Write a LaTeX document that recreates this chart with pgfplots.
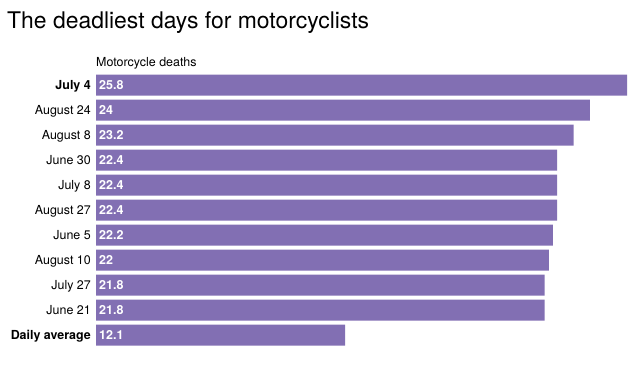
\documentclass[border=0pt]{standalone}
\usepackage{pgfplots}
\pgfplotsset{compat=1.18}
\usepackage{pgfplotstable}
\usepackage{fontspec}
\setmainfont{TeX Gyre Heros}
\definecolor{barpurple}{HTML}{826FB3}

\pgfplotstableread[col sep=comma]{
idx,value
0,25.8
1,24
2,23.2
3,22.4
4,22.4
5,22.4
6,22.2
7,22
8,21.8
9,21.8
10,12.1
}\deaths

\begin{document}
\begin{tikzpicture}[x=1bp,y=1bp]
\path[use as bounding box] (0,0) rectangle (640,374);
\node[anchor=base west, inner sep=0pt, font=\fontsize{23}{27}\selectfont] at (7,346) {The deadliest days for motorcyclists};
\node[anchor=base west, inner sep=0pt, font=\fontsize{12.5}{15}\selectfont] at (96,308) {Motorcycle deaths};
\begin{axis}[
  at={(96bp,26.5bp)}, anchor=south west,
  width=531bp, height=275bp, scale only axis,
  xmin=0, xmax=25.8, ymin=-0.5, ymax=10.5, y dir=reverse,
  axis line style={draw=none}, major tick length=0pt,
  xtick=\empty, ytick={0,1,2,3,4,5,6,7,8,9,10},
  yticklabels={\textbf{July 4},August 24,August 8,June 30,July 8,August 27,June 5,August 10,July 27,June 21,\textbf{Daily average}},
  yticklabel style={font=\fontsize{12.5}{15}\selectfont, anchor=east, text height=9bp, text depth=0pt, inner sep=0pt, xshift=-5bp},
  clip=false,
]
\addplot[xbar, bar width=0.84, fill=barpurple, draw=none] table[x=value, y=idx]{\deaths};
\addplot[draw=none, mark=none, nodes near coords, point meta=explicit symbolic,
  nodes near coords style={anchor=west, text=white, font=\bfseries\fontsize{12.5}{15}\selectfont, text height=9bp, text depth=0pt, inner sep=0pt, xshift=3bp}]
  table[x expr=0, y=idx, meta=value]{\deaths};
\end{axis}
\end{tikzpicture}
\end{document}
